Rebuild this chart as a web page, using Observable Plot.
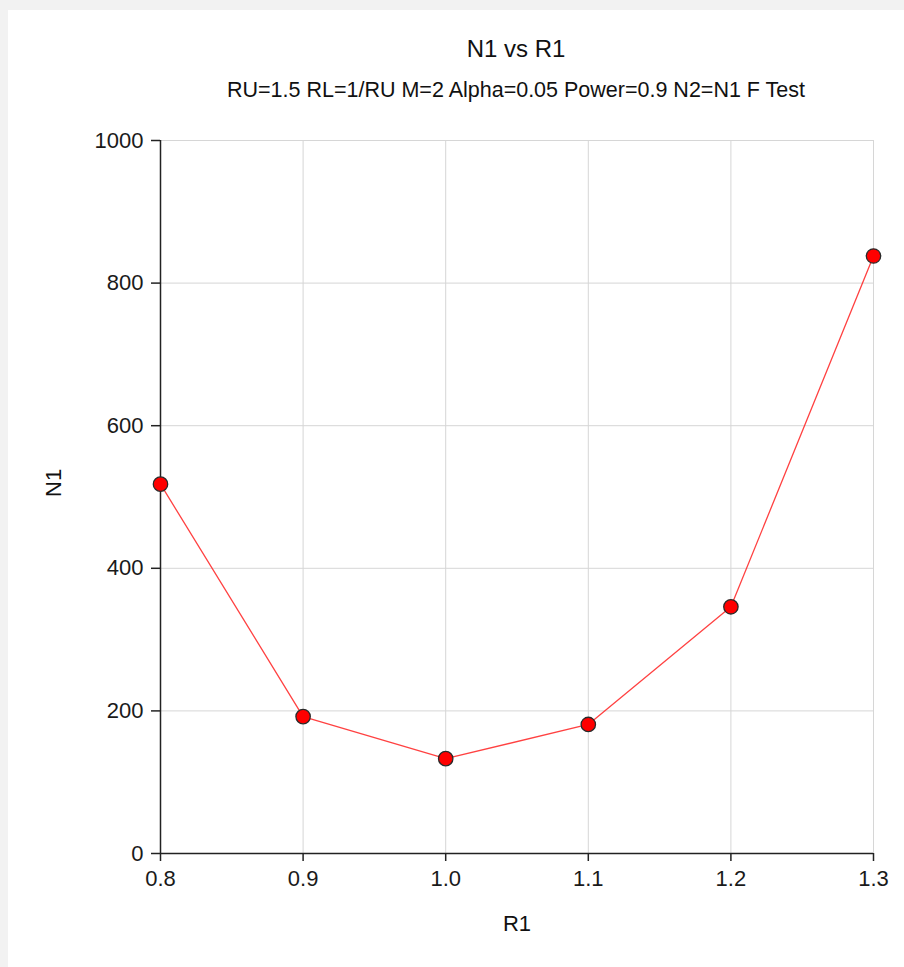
<!DOCTYPE html>
<html>
<head>
<meta charset="utf-8">
<script src="https://cdn.jsdelivr.net/npm/d3@7"></script>
<script src="https://cdn.jsdelivr.net/npm/@observablehq/plot@0.6"></script>
<style>
  html, body { margin: 0; padding: 0; }
  body { width: 904px; height: 967px; background: #f2f2f2; position: relative; overflow: hidden;
         font-family: "Liberation Sans", Arial, sans-serif; }
  #panel { position: absolute; left: 8px; top: 10px; width: 896px; height: 957px; background: #fff; }
  #chart { position: absolute; left: 0; top: 0; }
  .ttl { position: absolute; text-align: center; color: #111; white-space: nowrap; }
  #title { top: 35px; left: 316px; width: 400px; font-size: 24px; }
  #subtitle { top: 78px; left: 116px; width: 800px; font-size: 21.5px; }
</style>
</head>
<body>
<div id="panel"></div>
<div id="chart"></div>
<div id="title" class="ttl">N1 vs R1</div>
<div id="subtitle" class="ttl">RU=1.5 RL=1/RU M=2 Alpha=0.05 Power=0.9 N2=N1 F Test</div>
<script>
const R1 = [0.8, 0.9, 1.0, 1.1, 1.2, 1.3];
const N1 = [518, 192, 133, 181, 346, 838];
const xTicks = [0.8, 0.9, 1.0, 1.1, 1.2, 1.3];
const yTicks = [0, 200, 400, 600, 800, 1000];

const data = R1.map((r, i) => ({R1: r, N1: N1[i]}));

const plot = Plot.plot({
  width: 904,
  height: 967,
  marginLeft: 160,
  marginRight: 31,
  marginTop: 140,
  marginBottom: 114,
  style: {fontFamily: "'Liberation Sans', Arial, sans-serif", fontSize: "22px", color: "#1a1a1a", background: "transparent", overflow: "visible"},
  x: {domain: [0.8, 1.3]},
  y: {domain: [0, 1000]},
  marks: [
    Plot.gridX(xTicks, {stroke: "#d6d6d6", strokeOpacity: 1}),
    Plot.gridY(yTicks, {stroke: "#d6d6d6", strokeOpacity: 1}),
    Plot.axisX(xTicks, {tickSize: 8, tickPadding: 9, tickFormat: d3.format(".1f"), stroke: "#222", strokeWidth: 1.5, label: null}),
    Plot.axisY(yTicks, {tickSize: 9, tickPadding: 8, tickFormat: d3.format("d"), stroke: "#222", strokeWidth: 1.5, label: null}),
    Plot.ruleY([0], {stroke: "#222", strokeWidth: 1.5}),
    Plot.ruleX([0.8], {stroke: "#222", strokeWidth: 1.5}),
    Plot.text(["R1"], {frameAnchor: "bottom", dy: 77, fontSize: 22, fill: "#111"}),
    Plot.text(["N1"], {frameAnchor: "left", dx: -107, rotate: -90, fontSize: 22, fill: "#111"}),
    Plot.line(data, {x: "R1", y: "N1", stroke: "#ff2020", strokeWidth: 1.3, strokeOpacity: 0.85}),
    Plot.dot(data, {x: "R1", y: "N1", r: 7.2, fill: "#ff0000", stroke: "#2a2a2a", strokeWidth: 1.3})
  ]
});
document.getElementById("chart").appendChild(plot);
</script>
</body>
</html>
